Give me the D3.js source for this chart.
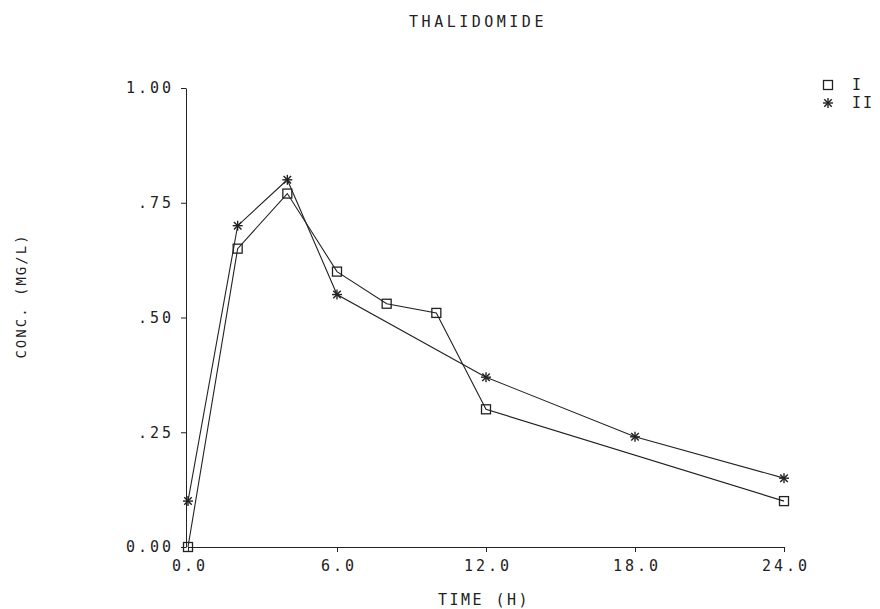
<!DOCTYPE html>
<html>
<head>
<meta charset="utf-8">
<script src="https://cdn.jsdelivr.net/npm/d3@7"></script>
<style>
  body { margin: 0; background: #fff; }
  text { font-family: "DejaVu Sans Mono", monospace; fill: #222; }
</style>
</head>
<body>
<div id="chart"></div>
<script>
// data
var times = [0, 2, 4, 6, 8, 10, 12, 24];
var seriesI = [0.00, 0.65, 0.77, 0.60, 0.53, 0.51, 0.30, 0.10];
var timesII = [0, 2, 4, 6, 12, 18, 24];
var seriesII = [0.10, 0.70, 0.80, 0.55, 0.37, 0.24, 0.15];
var xTicks = [0, 6, 12, 18, 24];
var xTickLabels = ["0.0", "6.0", "12.0", "18.0", "24.0"];
var yTicks = [0, 0.25, 0.5, 0.75, 1];
var yTickLabels = ["0.00", ".25", ".50", ".75", "1.00"];

var width = 880, height = 609;

var svg = d3.select("#chart")
  .append("svg")
    .attr("width", width)
    .attr("height", height);

var x = d3.scaleLinear().domain([0, 24]).range([188, 784]);
var y = d3.scaleLinear().domain([0, 1]).range([547, 88]);

// title
svg.append("text")
  .attr("x", 478).attr("y", 27)
  .attr("text-anchor", "middle")
  .style("font-size", "15px")
  .style("letter-spacing", "3.5px")
  .text("THALIDOMIDE");

// x axis
var xAxis = svg.append("g")
  .attr("transform", "translate(0,547)")
  .call(d3.axisBottom(x).tickValues(xTicks).tickSize(5).tickSizeOuter(0)
    .tickFormat(function(d, i){ return xTickLabels[i]; }));

// y axis
var yAxis = svg.append("g")
  .attr("transform", "translate(186,0)")
  .call(d3.axisLeft(y).tickValues(yTicks).tickSize(5).tickSizeOuter(0)
    .tickFormat(function(d, i){ return yTickLabels[i]; }));

[xAxis, yAxis].forEach(function(ax){
  ax.select(".domain").attr("stroke", "#222").attr("stroke-width", 1);
  ax.selectAll(".tick line").attr("stroke", "#222");
  ax.selectAll(".tick text")
    .style("font-size", "15px")
    .style("letter-spacing", "3px")
    .attr("fill", "#222");
});
xAxis.selectAll(".tick text").attr("y", 13).attr("dx", "1.5px");
yAxis.selectAll(".tick text").attr("x", -12);

// axis titles
svg.append("text")
  .attr("x", 484).attr("y", 605)
  .attr("text-anchor", "middle")
  .style("font-size", "15px")
  .style("letter-spacing", "2.5px")
  .text("TIME  (H)");

svg.append("text")
  .attr("transform", "translate(26,296) rotate(-90)")
  .attr("text-anchor", "middle")
  .style("font-size", "14px")
  .style("letter-spacing", "2px")
  .text("CONC.  (MG/L)");

// lines
var line = d3.line()
  .x(function(d){ return x(d[0]); })
  .y(function(d){ return y(d[1]); });

var dataI = times.map(function(t, i){ return [t, seriesI[i]]; });
var dataII = timesII.map(function(t, i){ return [t, seriesII[i]]; });

svg.append("path")
  .datum(dataI)
  .attr("d", line)
  .attr("fill", "none")
  .attr("stroke", "#222")
  .attr("stroke-width", 1.1);

svg.append("path")
  .datum(dataII)
  .attr("d", line)
  .attr("fill", "none")
  .attr("stroke", "#222")
  .attr("stroke-width", 1.1);

// markers
function drawSquare(g, cx, cy){
  g.append("rect")
    .attr("x", cx - 4.5).attr("y", cy - 4.5)
    .attr("width", 9).attr("height", 9)
    .attr("fill", "none")
    .attr("stroke", "#222")
    .attr("stroke-width", 1.3);
}

function drawStar(g, cx, cy){
  var r = 5;
  [[0, -r, 0, r], [-r, 0, r, 0], [-r*0.75, -r*0.75, r*0.75, r*0.75], [-r*0.75, r*0.75, r*0.75, -r*0.75]]
    .forEach(function(s){
      g.append("line")
        .attr("x1", cx + s[0]).attr("y1", cy + s[1])
        .attr("x2", cx + s[2]).attr("y2", cy + s[3])
        .attr("stroke", "#222")
        .attr("stroke-width", 1.4);
    });
}

var marks = svg.append("g");
dataI.forEach(function(d){ drawSquare(marks, x(d[0]), y(d[1])); });
dataII.forEach(function(d){ drawStar(marks, x(d[0]), y(d[1])); });

// legend
var legend = svg.append("g");
drawSquare(legend, 828, 85);
drawStar(legend, 828, 103);
legend.append("text")
  .attr("x", 852).attr("y", 90)
  .style("font-size", "15px")
  .text("I");
legend.append("text")
  .attr("x", 852).attr("y", 108)
  .style("font-size", "15px")
  .style("letter-spacing", "2px")
  .text("II");
</script>
</body>
</html>
